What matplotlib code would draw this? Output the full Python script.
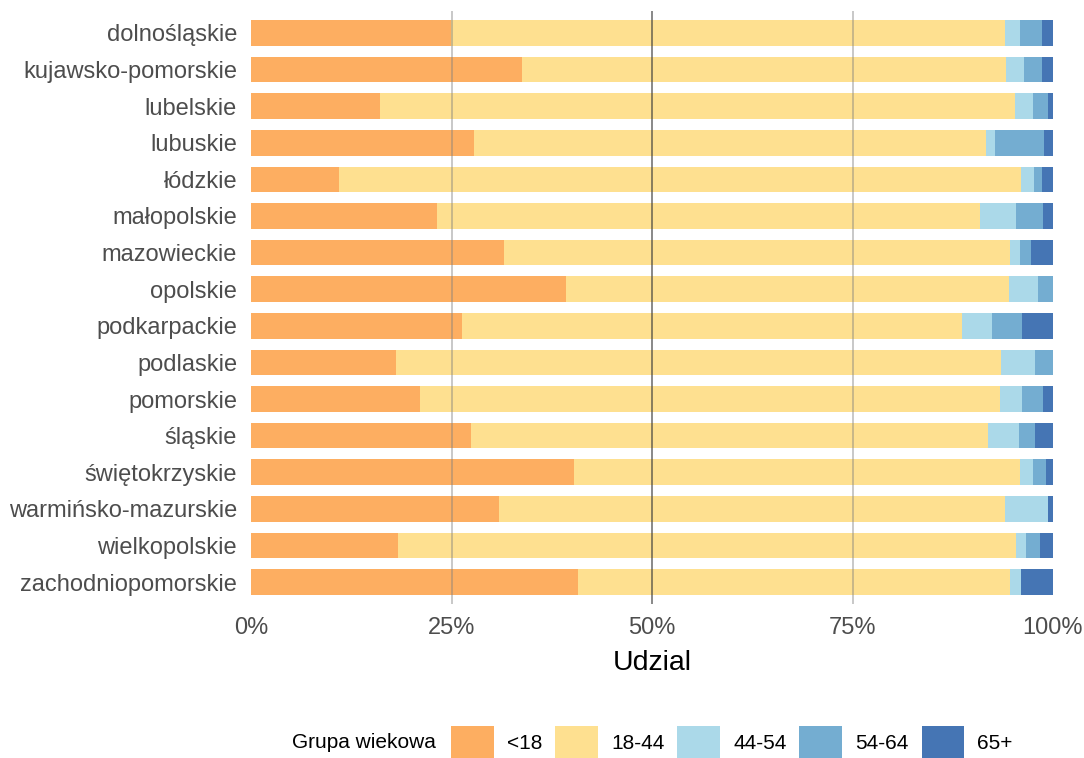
import numpy as np
import matplotlib.pyplot as plt
from matplotlib.patches import Patch

plt.rcParams['font.family'] = ['Liberation Sans', 'DejaVu Sans']

regions = ["dolnośląskie", "kujawsko-pomorskie", "lubelskie", "lubuskie", "łódzkie",
           "małopolskie", "mazowieckie", "opolskie", "podkarpackie", "podlaskie",
           "pomorskie", "śląskie", "świętokrzyskie", "warmińsko-mazurskie",
           "wielkopolskie", "zachodniopomorskie"]

groups = ["<18", "18-44", "44-54", "54-64", "65+"]
colors = ["#FDAE61", "#FEE090", "#ABD9E9", "#74ADD1", "#4575B4"]

# shares in %
under18 = [24.9, 33.8, 16.1, 27.8, 11.0, 23.2, 31.5, 39.3, 26.3, 18.1, 21.1, 27.4, 40.3, 30.9, 18.3, 40.8]
g18_44 = [69.1, 60.3, 79.2, 63.8, 85.0, 67.7, 63.1, 55.2, 62.4, 75.4, 72.3, 64.5, 55.6, 63.1, 77.1, 53.8]
g44_54 = [1.9, 2.3, 2.2, 1.2, 1.6, 4.5, 1.3, 3.6, 3.7, 4.3, 2.7, 3.9, 1.6, 5.4, 1.2, 1.4]
g54_64 = [2.7, 2.2, 1.9, 6.1, 1.0, 3.4, 1.4, 1.9, 3.7, 2.2, 2.7, 2.0, 1.6, 0.0, 1.8, 0.0]
g65 = [1.4, 1.4, 0.6, 1.1, 1.4, 1.2, 2.7, 0.0, 3.9, 0.0, 1.2, 2.2, 0.9, 0.6, 1.6, 4.0]

data = np.array([under18, g18_44, g44_54, g54_64, g65])
data = data / data.sum(axis=0)

fig = plt.figure(figsize=(10.84, 7.58), dpi=100)
ax = fig.add_axes([251 / 1084, 1 - 604 / 758, 802 / 1084, 593 / 758])

y = np.arange(len(regions))
left = np.zeros(len(regions))
for vals, col in zip(data, colors):
    ax.barh(y, vals, left=left, height=0.7, color=col, linewidth=0)
    left += vals

for xv, c, a in [(0.25, "#7f7f7f", 0.5), (0.5, "#3a3a3a", 0.7), (0.75, "#7f7f7f", 0.5)]:
    ax.axvline(xv, color=c, alpha=a, linewidth=1.2, zorder=5)

ax.set_xlim(0, 1)
ax.set_ylim(len(regions) - 0.4, -0.6)
ax.set_yticks(y)
ax.set_yticklabels(regions, fontsize=17, color="#4D4D4D")
ax.set_xticks([0, 0.25, 0.5, 0.75, 1])
ax.set_xticklabels(["0%", "25%", "50%", "75%", "100%"], fontsize=17, color="#4D4D4D")
ax.tick_params(axis="y", length=0, pad=10)
ax.tick_params(axis="x", length=0, pad=9)
ax.set_xlabel("Udzial", fontsize=20.5, labelpad=8)
for s in ax.spines.values():
    s.set_visible(False)

handles = [Patch(facecolor=c, label=g) for c, g in zip(colors, groups)]
fig.legend(handles=handles, loc="center left", bbox_to_anchor=(451 / 1084, 1 - 742 / 758),
           ncol=5, frameon=False, fontsize=15, handlelength=2.06, handleheight=2.06,
           handletextpad=0.62, columnspacing=0.62, borderpad=0, borderaxespad=0)
fig.text(292 / 1084, 1 - 742 / 758, "Grupa wiekowa", fontsize=15, va="center", ha="left")

fig.savefig("out.png", dpi=100)
